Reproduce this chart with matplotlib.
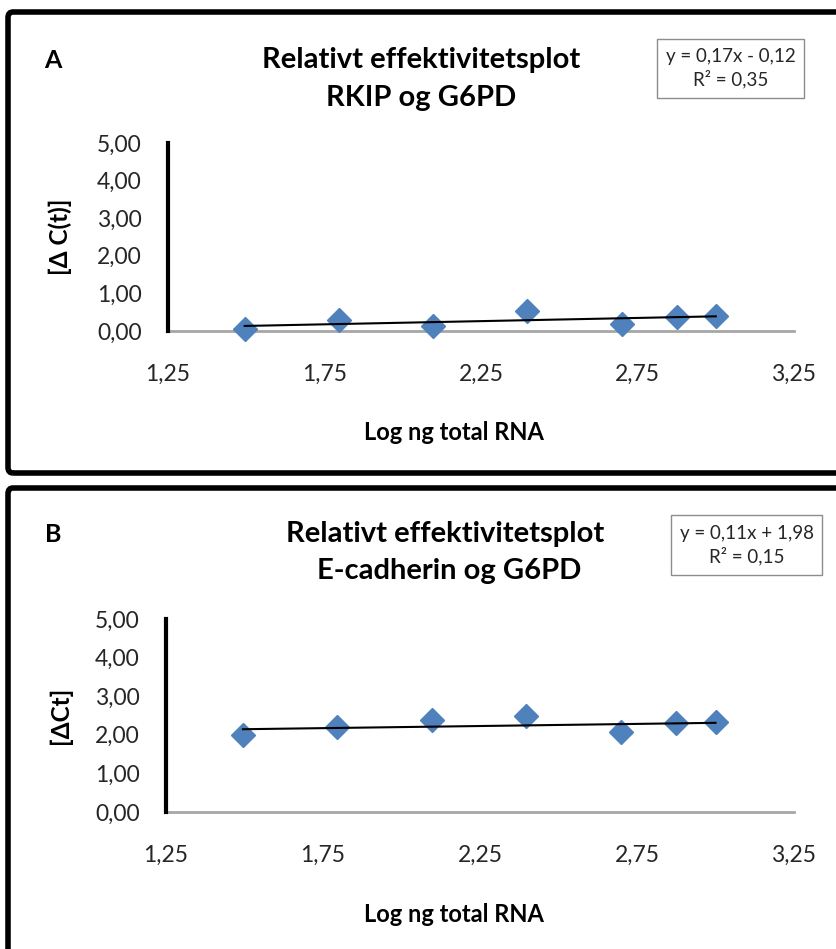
import matplotlib.pyplot as plt
from matplotlib.patches import FancyBboxPatch, Rectangle

plt.rcParams['font.family'] = ['Lato', 'DejaVu Sans']

W, H = 836, 949

# log ng total RNA (same for both panels)
log_rna = [1.495, 1.796, 2.097, 2.398, 2.699, 2.875, 3.000]

# panel A: RKIP vs G6PD
delta_ct_a = [0.05, 0.29, 0.12, 0.53, 0.19, 0.38, 0.39]
fit_a = (0.17, -0.12)
eq_a = "y = 0,17x - 0,12\nR² = 0,35"

# panel B: E-cadherin vs G6PD
delta_ct_b = [1.99, 2.20, 2.38, 2.49, 2.07, 2.30, 2.32]
fit_b = (0.11, 1.98)
eq_b = "y = 0,11x + 1,98\nR² = 0,15"

x_ticks = [1.25, 1.75, 2.25, 2.75, 3.25]
x_ticklabels = ["1,25", "1,75", "2,25", "2,75", "3,25"]
y_ticks = [0, 1, 2, 3, 4, 5]
y_ticklabels = ["0,00", "1,00", "2,00", "3,00", "4,00", "5,00"]

fig = plt.figure(figsize=(W / 100, H / 100), dpi=100)


def fx(px):
    return px / W


def fy(py):
    return 1 - py / H


def panel(letter, top, bottom, ax_box, y, fit, eq, ylabel, title2,
          title_cx, title_y, xlab_y, box):
    # outer frame (runs off the right edge, like the screenshot)
    frame = FancyBboxPatch((fx(8), fy(bottom)), fx(900), fy(top) - fy(bottom),
                           boxstyle="round,pad=0,rounding_size=0.006",
                           transform=fig.transFigure, fill=False,
                           edgecolor='black', linewidth=4, clip_on=False)
    fig.patches.append(frame)

    l, t, r, b = ax_box
    ax = fig.add_axes([fx(l), fy(b), fx(r) - fx(l), fy(t) - fy(b)])
    ax.set_xlim(1.25, 3.25)
    ax.set_ylim(0, 5)
    for s in ['top', 'right']:
        ax.spines[s].set_visible(False)
    ax.spines['left'].set_linewidth(3)
    ax.spines['left'].set_color('black')
    ax.spines['bottom'].set_linewidth(2)
    ax.spines['bottom'].set_color('#a6a6a6')
    ax.spines['left'].set_zorder(5)
    ax.set_xticks(x_ticks)
    ax.set_xticklabels(x_ticklabels)
    ax.set_yticks(y_ticks)
    ax.set_yticklabels(y_ticklabels)
    ax.tick_params(length=0, labelsize=16.5, colors='#262626')
    ax.tick_params(axis='x', pad=24)
    ax.tick_params(axis='y', pad=19)

    ax.plot(log_rna, y, linestyle='none', marker='D', markersize=12.5,
            color='#4f81bd', clip_on=False, zorder=3)
    xs = [min(log_rna), max(log_rna)]
    ax.plot(xs, [fit[0] * v + fit[1] for v in xs], color='black', lw=1.5,
            zorder=4)

    fig.text(fx(60), fy((t + b) / 2), ylabel, rotation=90, ha='center',
             va='center', fontsize=17.5, fontweight='bold')
    fig.text(fx(454), fy(xlab_y), "Log ng total RNA", ha='center',
             va='center', fontsize=17, fontweight='bold')
    fig.text(fx(53), fy(title_y[0]), letter, ha='center', va='center',
             fontsize=18, fontweight='bold')
    fig.text(fx(title_cx[0]), fy(title_y[0]), "Relativt effektivitetsplot",
             ha='center', va='center', fontsize=21, fontweight='bold')
    fig.text(fx(title_cx[1]), fy(title_y[1]), title2,
             ha='center', va='center', fontsize=21, fontweight='bold')

    bl, bt, br, bb = box
    fig.patches.append(Rectangle((fx(bl), fy(bb)), fx(br) - fx(bl),
                                 fy(bt) - fy(bb), transform=fig.transFigure,
                                 fill=False, edgecolor='#8c8c8c', lw=1))
    fig.text(fx((bl + br) / 2), fy((bt + bb) / 2), eq, ha='center',
             va='center', fontsize=13.5, linespacing=1.3, color='#262626')
    return ax


panel("A", 12, 473, (168, 143, 794, 331), delta_ct_a, fit_a, eq_a,
      "[Δ C(t)]", "RKIP og G6PD", (421, 421), (60, 98), 433,
      (657, 39, 804, 98))
panel("B", 488, 1000, (166, 619, 794, 812), delta_ct_b, fit_b, eq_b,
      "[ΔCt]", "E-cadherin og G6PD", (445, 449), (534, 571), 915,
      (671, 515, 822, 575))

fig.savefig("out.png", dpi=100)
